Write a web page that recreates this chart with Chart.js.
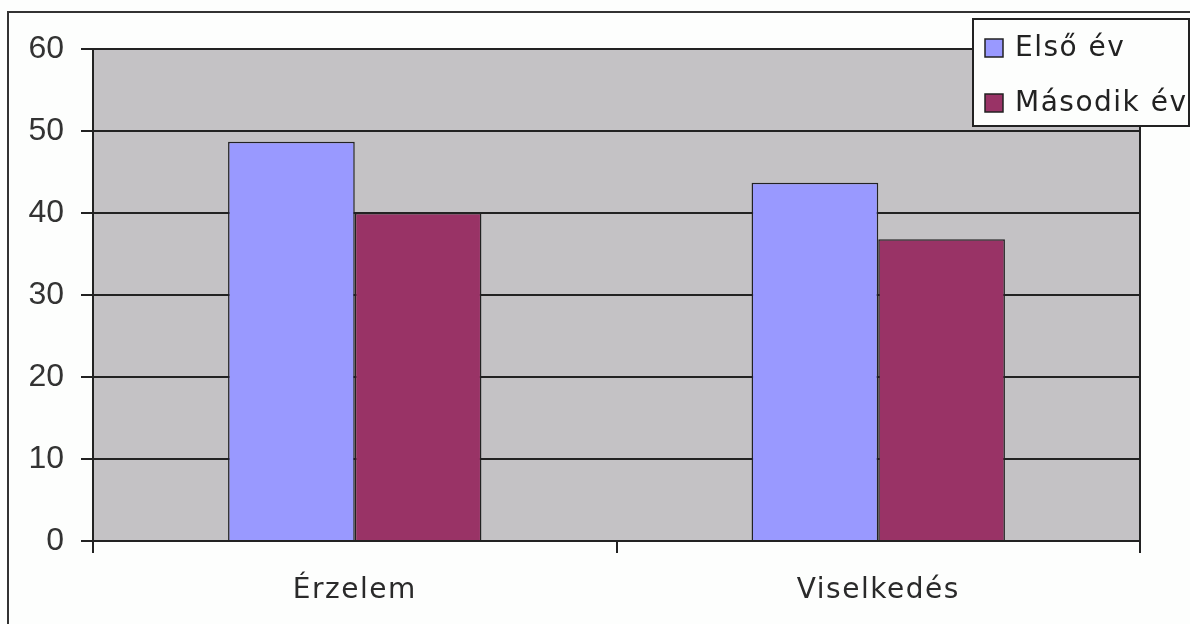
<!DOCTYPE html>
<html lang="hu">
<head>
    <meta charset="UTF-8">
    <title>Érzelem és viselkedés</title>
    <script src="https://cdn.jsdelivr.net/npm/chart.js"></script>
    <style>
        body {
            margin: 0;
            padding: 0;
            background-color: #fdfefd;
        }
        #grafica {
            display: block;
        }
    </style>
</head>
<body>
    <canvas id="grafica" width="1190" height="624"></canvas>
    <script>
        // Adatok
        const kategoriak = ['Érzelem', 'Viselkedés'];
        const elsoEv = [48.7, 43.7];
        const masodikEv = [40.0, 36.8];
        const sorozatNevek = ['Első év', 'Második év'];
        const yTengely = [0, 10, 20, 30, 40, 50, 60];

        const szinek = ['#9999ff', '#993366'];
        const betukoz = '1.5px';

        // Háttér, keret és a szürke rajzterület
        const hatter = {
            id: 'hatter',
            beforeDraw(chart) {
                const ctx = chart.ctx;
                const a = chart.chartArea;
                ctx.letterSpacing = '0px';
                ctx.save();
                ctx.fillStyle = '#fdfefd';
                ctx.fillRect(0, 0, chart.width, chart.height);
                ctx.strokeStyle = '#333';
                ctx.lineWidth = 2;
                ctx.beginPath();
                ctx.moveTo(8, chart.height + 5);
                ctx.lineTo(8, 12);
                ctx.lineTo(chart.width + 5, 12);
                ctx.stroke();
                ctx.fillStyle = '#c4c2c5';
                ctx.fillRect(a.left, a.top, a.right - a.left, a.bottom - a.top);
                ctx.restore();
            },
            afterDatasetsDraw(chart) {
                const ctx = chart.ctx;
                const a = chart.chartArea;
                ctx.save();
                ctx.strokeStyle = '#222';
                ctx.lineWidth = 2;
                ctx.beginPath();
                ctx.moveTo(a.right, a.top);
                ctx.lineTo(a.right, a.bottom);
                ctx.stroke();
                ctx.restore();
                // az x tengely feliratai ezután jönnek (z: 1), ritkított betűkkel
                ctx.letterSpacing = betukoz;
            }
        };

        // Jelmagyarázat doboza a jobb felső sarokban
        const jelmagyarazat = {
            id: 'jelmagyarazat',
            afterDraw(chart) {
                const ctx = chart.ctx;
                ctx.save();
                ctx.fillStyle = '#fdfefd';
                ctx.fillRect(973, 19, 216, 107);
                ctx.strokeStyle = '#222';
                ctx.lineWidth = 2;
                ctx.strokeRect(973, 19, 216, 107);
                ctx.font = '28px "DejaVu Sans"';
                ctx.letterSpacing = betukoz;
                ctx.textBaseline = 'alphabetic';
                ctx.textAlign = 'left';
                chart.data.datasets.forEach((ds, i) => {
                    const y = 39 + i * 55;
                    ctx.fillStyle = ds.backgroundColor;
                    ctx.fillRect(985, y, 18, 18);
                    ctx.lineWidth = 1.5;
                    ctx.strokeStyle = '#222';
                    ctx.strokeRect(985, y, 18, 18);
                    ctx.fillStyle = '#222';
                    ctx.fillText(ds.label, 1015, y + 17);
                });
                ctx.restore();
                ctx.letterSpacing = '0px';
            }
        };

        const ctx = document.getElementById('grafica').getContext('2d');
        new Chart(ctx, {
            type: 'bar',
            data: {
                labels: kategoriak,
                datasets: [
                    {
                        label: sorozatNevek[0],
                        data: [elsoEv[0], elsoEv[1]],
                        backgroundColor: szinek[0],
                        borderColor: '#222',
                        borderWidth: 1.5
                    },
                    {
                        label: sorozatNevek[1],
                        data: [masodikEv[0], masodikEv[1]],
                        backgroundColor: szinek[1],
                        borderColor: '#222',
                        borderWidth: 1.5
                    }
                ]
            },
            options: {
                responsive: false,
                animation: false,
                categoryPercentage: 0.484,
                barPercentage: 1.0,
                layout: {
                    padding: { top: 49, right: 50, left: 0, bottom: 0 }
                },
                plugins: {
                    legend: { display: false },
                    tooltip: { enabled: false }
                },
                scales: {
                    x: {
                        afterFit(scale) { scale.height = 83; },
                        grid: {
                            display: true,
                            drawOnChartArea: false,
                            drawTicks: true,
                            tickLength: 12,
                            color: '#222',
                            lineWidth: 2,
                            offset: true
                        },
                        border: { display: true, color: '#222', width: 2 },
                        ticks: {
                            z: 1,
                            color: '#2a2a2a',
                            padding: 21,
                            font: { family: '"DejaVu Sans"', size: 28 }
                        }
                    },
                    y: {
                        min: 0,
                        max: 60,
                        afterFit(scale) { scale.width = 93; },
                        afterBuildTicks(scale) {
                            scale.ticks = yTengely.map(v => ({ value: v }));
                        },
                        grid: {
                            color: '#222',
                            lineWidth: 2,
                            tickLength: 12
                        },
                        border: { display: true, color: '#222', width: 2 },
                        ticks: {
                            color: '#333',
                            padding: 17,
                            font: { family: '"Liberation Sans"', size: 32 }
                        }
                    }
                }
            },
            plugins: [hatter, jelmagyarazat]
        });
    </script>
</body>
</html>
